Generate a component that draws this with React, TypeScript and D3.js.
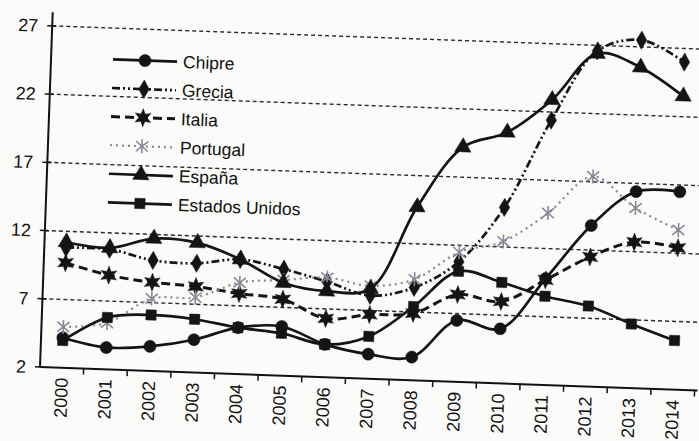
import React from 'react';
import * as d3 from 'd3';

const years = ['2000','2001','2002','2003','2004','2005','2006','2007','2008','2009','2010','2011','2012','2013','2014'];
const chipre = [4.2,3.6,3.8,4.4,5.4,5.6,4.4,3.8,3.7,6.5,6.0,9.8,13.8,16.4,16.5];
const grecia = [10.8,10.8,10.1,10.0,10.4,9.8,9.0,8.1,8.8,10.8,14.9,21.4,26.6,27.5,26.0];
const italia = [9.7,8.9,8.5,8.3,7.9,7.6,6.3,6.7,6.9,8.4,8.0,9.7,11.5,12.7,12.4];
const portugal = [5.0,5.4,7.3,7.5,8.7,9.0,9.3,8.8,9.4,11.5,12.4,14.6,17.4,15.2,13.7];
const espana = [11.2,10.9,11.7,11.5,10.4,8.8,8.3,8.6,14.7,19.2,20.4,22.9,26.4,25.5,23.5];
const eeuu = [4.0,5.8,6.1,5.9,5.4,5.1,4.4,5.1,7.4,10.1,9.4,8.5,7.9,6.7,5.6];
const yTicks = [2,7,12,17,22,27];

type Marker = 'circle'|'diamond'|'star'|'asterisk'|'triangle'|'square';
const seriesNames = ['Chipre','Grecia','Italia','Portugal','España','Estados Unidos'];
const seriesData = [chipre, grecia, italia, portugal, espana, eeuu];
const seriesMarkers: Marker[] = ['circle','diamond','star','asterisk','triangle','square'];
const seriesDash = ['', '8,3,2,3,2,3', '9,5', '2,4', '', ''];
const seriesColor = ['#141414','#141414','#141414','#8a8896','#141414','#141414'];
const seriesWidth = [2.7, 2.7, 3, 2.2, 2.7, 2.7];

function markerPath(m: Marker): string {
  switch (m) {
    case 'circle': return d3.symbol(d3.symbolCircle, 115)()!;
    case 'diamond': return d3.symbol(d3.symbolDiamond, 95)()!;
    case 'triangle': return d3.symbol(d3.symbolTriangle, 115)()!;
    case 'square': return d3.symbol(d3.symbolSquare, 105)()!;
    case 'star': {
      const pts: [number, number][] = [];
      for (let k = 0; k < 12; k++) {
        const r = k % 2 === 0 ? 9 : 4.2;
        const a = (Math.PI / 6) * k - Math.PI / 2;
        pts.push([r * Math.cos(a), r * Math.sin(a)]);
      }
      return 'M' + pts.map(p => p.join(',')).join('L') + 'Z';
    }
    case 'asterisk':
      return 'M0,-7L0,7M-6,-5L6,5M-6,5L6,-5';
  }
}

export default function App() {
  const W = 699, H = 441;
  const x = d3.scaleBand<string>().domain(years).range([40, 695]);
  const bw = x.bandwidth();
  const cx = (i: number) => (x(years[i]) as number) + bw / 2;
  const y = d3.scaleLinear().domain([2, 28]).range([367, 12]);
  const line = d3.line<number>().x((_, i) => cx(i)).y(d => y(d)).curve(d3.curveCatmullRom.alpha(0.5));
  const font = "'Liberation Sans', Arial, sans-serif";
  const boundaries = d3.range(1, years.length + 1).map(i => 40 + i * bw);

  return (
    <svg width={W} height={H} style={{ position: 'absolute', left: 0, top: 0, display: 'block' }}>
      <rect x={0} y={0} width={W} height={H} fill="#fbfbfa" />
      <g transform="rotate(2.05, 40, 367)">
        {yTicks.slice(1).map(t => (
          <line key={'g' + t} x1={40} x2={720} y1={y(t)} y2={y(t)} stroke="#2a2a2a" strokeWidth={1.4} strokeDasharray="4,3" />
        ))}
        <line x1={40} x2={40} y1={y(28)} y2={y(2)} stroke="#111" strokeWidth={2} />
        <line x1={40} x2={698} y1={y(2)} y2={y(2)} stroke="#111" strokeWidth={2} />
        {yTicks.map(t => (
          <g key={'t' + t}>
            <line x1={35} x2={44} y1={y(t)} y2={y(t)} stroke="#111" strokeWidth={1.5} />
            <text x={26} y={y(t)} dy="0.35em" textAnchor="end" fontFamily={font} fontSize={18} fill="#111">{t}</text>
          </g>
        ))}
        {boundaries.map((b, i) => (
          <line key={'xt' + i} x1={b} x2={b} y1={367} y2={373} stroke="#111" strokeWidth={1.5} />
        ))}
        {years.map((yr, i) => (
          <text key={yr} transform={`translate(${cx(i)},377) rotate(-90)`} dy="0.36em" textAnchor="end" fontFamily={font} fontSize={18} fill="#111">{yr}</text>
        ))}
        {seriesData.map((data, s) => (
          <g key={seriesNames[s]}>
            <path d={line(data)!} fill="none" stroke={seriesColor[s]} strokeWidth={seriesWidth[s]} strokeDasharray={seriesDash[s] || undefined} />
            {data.map((v, i) => (
              <path key={i} d={markerPath(seriesMarkers[s])} transform={`translate(${cx(i)},${y(v)})`}
                fill={seriesMarkers[s] === 'asterisk' ? 'none' : seriesColor[s]}
                stroke={seriesColor[s]} strokeWidth={seriesMarkers[s] === 'asterisk' ? 1.6 : 0.5} />
            ))}
          </g>
        ))}
        {seriesNames.map((name, s) => {
          const ly = 57 + s * 28.6;
          return (
            <g key={'l' + name}>
              <line x1={102} x2={166} y1={ly} y2={ly} stroke={seriesColor[s]} strokeWidth={seriesWidth[s]} strokeDasharray={seriesDash[s] || undefined} />
              <path d={markerPath(seriesMarkers[s])} transform={`translate(134,${ly})`}
                fill={seriesMarkers[s] === 'asterisk' ? 'none' : seriesColor[s]}
                stroke={seriesColor[s]} strokeWidth={seriesMarkers[s] === 'asterisk' ? 1.6 : 0.5} />
              <text x={172} y={ly} dy="0.35em" fontFamily={font} fontSize={17.5} fill="#111">{name}</text>
            </g>
          );
        })}
      </g>
    </svg>
  );
}
